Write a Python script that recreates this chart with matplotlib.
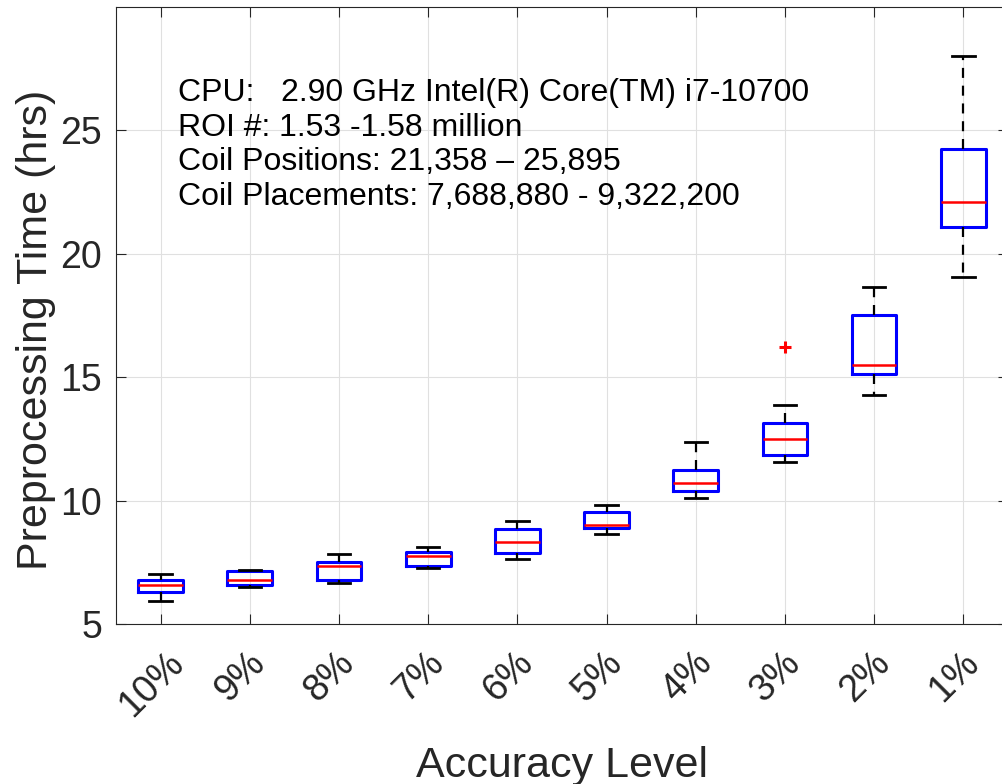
import numpy as np
import matplotlib
matplotlib.use("Agg")
import matplotlib.pyplot as plt
import matplotlib.transforms as mtransforms

plt.rcParams['font.family'] = ['Liberation Sans', 'DejaVu Sans']

# accuracy levels and box statistics (hours)
levels = ['10%', '9%', '8%', '7%', '6%', '5%', '4%', '3%', '2%', '1%']
whislo = [5.92, 6.51, 6.65, 7.26, 7.64, 8.66, 10.09, 11.57, 14.27, 19.08]
q1     = [6.30, 6.57, 6.79, 7.35, 7.87, 8.89, 10.40, 11.83, 15.11, 21.09]
med    = [6.57, 6.77, 7.35, 7.75, 8.33, 9.02, 10.70, 12.49, 15.50, 22.10]
q3     = [6.77, 7.13, 7.50, 7.93, 8.86, 9.55, 11.22, 13.13, 17.52, 24.26]
whishi = [7.02, 7.19, 7.83, 8.11, 9.16, 9.83, 12.36, 13.87, 18.66, 28.01]
fliers = [[], [], [], [], [], [], [], [16.23], [], []]

info = ["CPU:   2.90 GHz Intel(R) Core(TM) i7-10700",
        "ROI #: 1.53 -1.58 million",
        "Coil Positions: 21,358 \u2013 25,895",
        "Coil Placements: 7,688,880 - 9,322,200"]

stats = []
for i in range(len(levels)):
    stats.append(dict(label=levels[i], whislo=whislo[i], q1=q1[i], med=med[i],
                      q3=q3[i], whishi=whishi[i], fliers=fliers[i]))

fig = plt.figure(figsize=(10.02, 7.84), dpi=100)
# right edge of the axes falls just outside the picture, as in the original
ax = fig.add_axes([116/1002, 1 - 624/784, 892/1002, 617/784])

ax.bxp(stats, positions=np.arange(1, 11), widths=0.5, capwidths=0.25,
       boxprops=dict(color='#0000ff', linewidth=2.2),
       medianprops=dict(color='#ff0000', linewidth=1.8),
       whiskerprops=dict(color='black', linewidth=1.6, linestyle=(0, (4.5, 3.5))),
       capprops=dict(color='black', linewidth=2.0),
       flierprops=dict(marker='+', markeredgecolor='#ff0000', markersize=8,
                       markeredgewidth=2.2, linestyle='none'))

ax.set_xlim(0.5, 10.5)
ax.set_ylim(5, 30)
ax.set_yticks([5, 10, 15, 20, 25])
ax.set_xticks(np.arange(1, 11))
ax.set_xticklabels(levels, rotation=45, ha='center')

ax.grid(True, color='#e0e0e0', linewidth=0.8)
ax.set_axisbelow(True)
for s in ax.spines.values():
    s.set_color('#262626')
    s.set_linewidth(0.8)
ax.tick_params(direction='in', length=7, width=0.8, color='#262626',
               labelcolor='#262626', labelsize=27, top=True, right=True)
ax.tick_params(axis='y', pad=10)
ax.tick_params(axis='x', pad=15)

shift = mtransforms.ScaledTranslation(-9/100, 0, fig.dpi_scale_trans)
for lab in ax.get_xticklabels():
    lab.set_transform(lab.get_transform() + shift)

ax.set_xlabel("Accuracy Level", fontsize=31, color='#262626')
ax.set_ylabel("Preprocessing Time (hrs)", fontsize=31, color='#262626')
ax.xaxis.set_label_coords(0.5, -0.1977)
ax.yaxis.set_label_coords(-0.0673, 0.4765)

for k, line in enumerate(info):
    ax.text(0.0695, 0.8476 - k*0.0562, line, transform=ax.transAxes,
            fontsize=23, va='baseline', ha='left', color='black')

fig.savefig("out.png", dpi=100)
